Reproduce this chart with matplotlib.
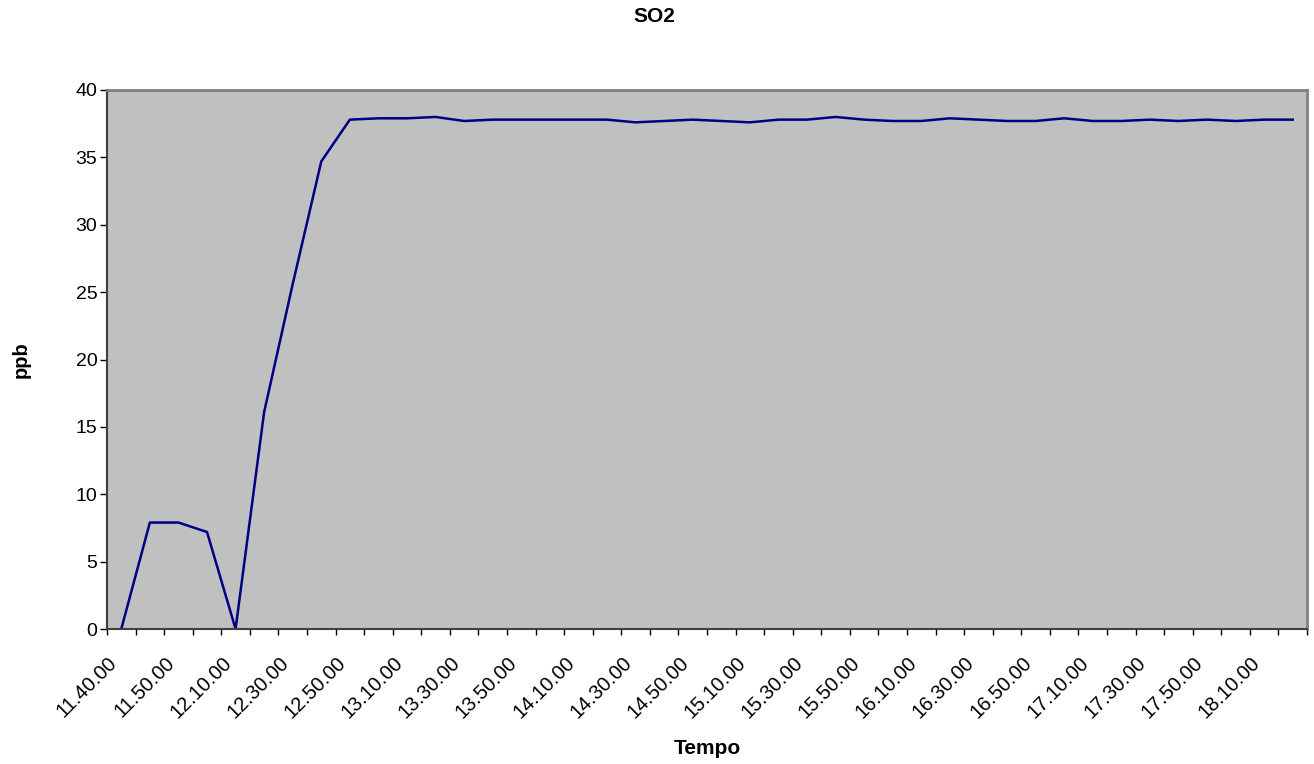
import matplotlib.pyplot as plt
import matplotlib.transforms as mtransforms

plt.rcParams['font.family'] = ['Liberation Sans', 'DejaVu Sans']

# categories (every 10 min after 11.50)
times = ["11.40.00", "11.45.00", "11.50.00", "12.00.00", "12.10.00", "12.20.00",
         "12.30.00", "12.40.00", "12.50.00", "13.00.00", "13.10.00", "13.20.00",
         "13.30.00", "13.40.00", "13.50.00", "14.00.00", "14.10.00", "14.20.00",
         "14.30.00", "14.40.00", "14.50.00", "15.00.00", "15.10.00", "15.20.00",
         "15.30.00", "15.40.00", "15.50.00", "16.00.00", "16.10.00", "16.20.00",
         "16.30.00", "16.40.00", "16.50.00", "17.00.00", "17.10.00", "17.20.00",
         "17.30.00", "17.40.00", "17.50.00", "18.00.00", "18.10.00", "18.20.00"]

so2 = [0, 7.9, 7.9, 7.2, 0, 16.1, 25.6, 34.7, 37.8, 37.9, 37.9, 38.0,
       37.7, 37.8, 37.8, 37.8, 37.8, 37.8, 37.6, 37.7, 37.8, 37.7, 37.6, 37.8,
       37.8, 38.0, 37.8, 37.7, 37.7, 37.9, 37.8, 37.7, 37.7, 37.9, 37.7, 37.7,
       37.8, 37.7, 37.8, 37.7, 37.8, 37.8]

fig = plt.figure(figsize=(13.14, 7.64), dpi=100)
ax = fig.add_axes([107 / 1314, 1 - 629 / 764, 1200 / 1314, 539 / 764])
ax.set_facecolor('#C0C0C0')

x = list(range(len(times)))
ax.plot(x, so2, color='#000080', linewidth=1.8)

ax.set_xlim(-0.5, len(times) - 0.5)
ax.set_ylim(0, 40)
ax.set_yticks(range(0, 41, 5))
ax.tick_params(axis='y', direction='out', length=5, width=1, pad=2, labelsize=14, colors='black')

ax.set_xticks(x[::2])
ax.set_xticklabels(times[::2], rotation=45, ha='right', va='center',
                   rotation_mode='anchor', fontsize=14.5)
ax.set_xticks([i - 0.5 for i in range(len(times) + 1)], minor=True)
ax.tick_params(axis='x', which='major', length=0, pad=22)
ax.tick_params(axis='x', which='minor', direction='out', length=4, width=1)

shift = mtransforms.ScaledTranslation(-7 / 100, 0, fig.dpi_scale_trans)
for lab in ax.get_xticklabels():
    lab.set_transform(lab.get_transform() + shift)

for s in ['top', 'right']:
    ax.spines[s].set_color('#808080')
    ax.spines[s].set_linewidth(2)
for s in ['left', 'bottom']:
    ax.spines[s].set_color('#404040')
    ax.spines[s].set_linewidth(1.5)

fig.text(654 / 1314, 1 - 16 / 764, "SO2", ha='center', va='center', fontsize=15, fontweight='bold')
fig.text(707 / 1314, 1 - 748 / 764, "Tempo", ha='center', va='center', fontsize=15, fontweight='bold')
fig.text(21 / 1314, 1 - 360 / 764, "ppb", ha='center', va='center', rotation=90, fontsize=14.5, fontweight='bold')

fig.savefig('out.png', dpi=100)
